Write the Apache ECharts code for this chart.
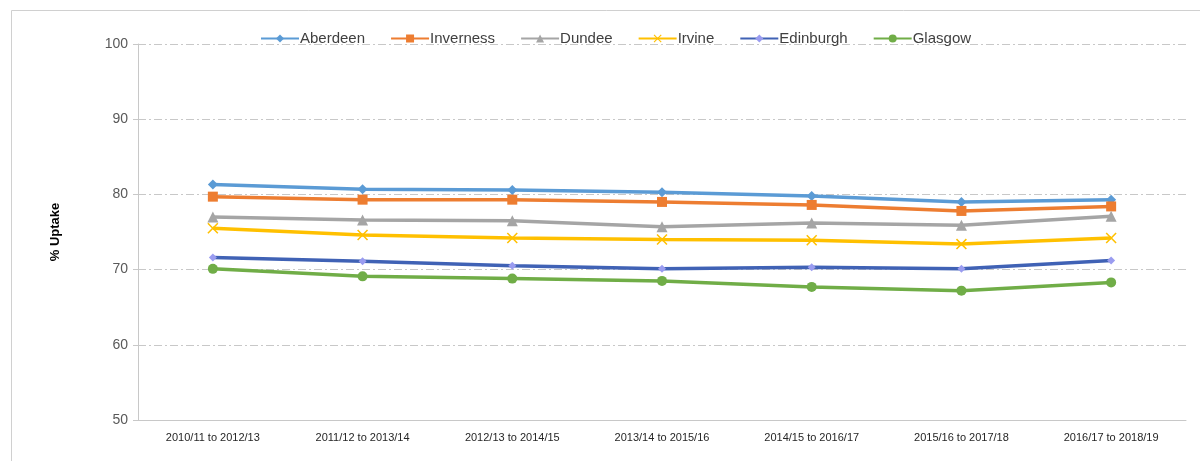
<!DOCTYPE html>
<html><head><meta charset="utf-8">
<script src="https://cdn.jsdelivr.net/npm/echarts@6/dist/echarts.min.js"></script>
<style>html,body{margin:0;padding:0;background:#fff}#c{width:1200px;height:461px}</style>
</head><body><div id="c"></div>
<script>
const categories = ["2010/11 to 2012/13","2011/12 to 2013/14","2012/13 to 2014/15","2013/14 to 2015/16","2014/15 to 2016/17","2015/16 to 2017/18","2016/17 to 2018/19"];
const aberdeen  = [81.3, 80.7, 80.6, 80.3, 79.8, 79.0, 79.3];
const inverness = [79.7, 79.3, 79.3, 79.0, 78.6, 77.8, 78.4];
const dundee    = [77.0, 76.6, 76.5, 75.7, 76.2, 75.9, 77.1];
const irvine    = [75.5, 74.6, 74.2, 74.0, 73.9, 73.4, 74.2];
const edinburgh = [71.6, 71.1, 70.5, 70.1, 70.3, 70.1, 71.2];
const glasgow   = [70.1, 69.1, 68.8, 68.5, 67.7, 67.2, 68.3];
const yTicks = [50, 60, 70, 80, 90, 100];

const crossPath = 'path://M0,1L1,0L5,4L9,0L10,1L6,5L10,9L9,10L5,6L1,10L0,9L4,5Z';
const chart = echarts.init(document.getElementById('c'));
function s(name, data, color, symbol, size, markerColor) {
  return {
    name, type: 'line', data, symbol, symbolSize: size,
    lineStyle: { color, width: 3.5 },
    itemStyle: { color: markerColor || color },
    color: color
  };
}
chart.setOption({
  animation: false,
  backgroundColor: '#fff',
  graphic: [{
    type: 'rect', shape: { x: 11.5, y: 10.5, width: 1200, height: 460 },
    style: { fill: 'none', stroke: '#d0d0d0', lineWidth: 1 }, silent: true, z: -1
  }],
  legend: {
    top: 26, left: 255,
    itemWidth: 38, itemHeight: 10, itemGap: 25,
    textStyle: { fontFamily: 'Liberation Sans, Arial', fontSize: 15, color: '#404040', padding: [0, 0, 0, -4] },
    data: ['Aberdeen','Inverness','Dundee','Irvine','Edinburgh','Glasgow']
  },
  grid: { left: 138, right: 14, top: 44, bottom: 41 },
  xAxis: {
    type: 'category', data: categories, boundaryGap: true,
    axisLine: { lineStyle: { color: '#c8c8c8' } },
    axisTick: { show: false },
    axisLabel: { fontFamily: 'Liberation Sans, Arial', fontSize: 11, color: '#262626', margin: 12 }
  },
  yAxis: {
    type: 'value', min: yTicks[0], max: yTicks[yTicks.length - 1], interval: 10,
    name: '% Uptake', nameLocation: 'middle', nameGap: 76, nameRotate: 90,
    nameTextStyle: { fontFamily: 'Liberation Sans, Arial', fontSize: 13, fontWeight: 'bold', color: '#000' },
    axisLine: { show: true, lineStyle: { color: '#c8c8c8' } },
    axisTick: { show: true, length: 5, lineStyle: { color: '#c8c8c8' } },
    axisLabel: { fontFamily: 'Liberation Sans, Arial', fontSize: 14, color: '#595959', margin: 10 },
    splitLine: { lineStyle: { color: '#c8c8c8', type: [8, 3, 2, 3], width: 1 } }
  },
  series: [
    s('Aberdeen', aberdeen, '#5b9bd5', 'diamond', 10),
    s('Inverness', inverness, '#ed7d31', 'rect', 10),
    s('Dundee', dundee, '#a5a5a5', 'triangle', 11),
    s('Irvine', irvine, '#ffc000', crossPath, 11),
    s('Edinburgh', edinburgh, '#4062b5', 'diamond', 8, '#9a9cf0'),
    s('Glasgow', glasgow, '#70ad47', 'circle', 10)
  ]
});
</script></body></html>
